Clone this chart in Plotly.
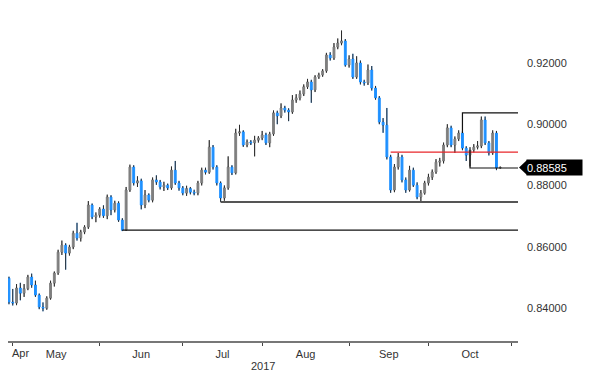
import pandas as pd
import plotly.graph_objects as go

# ---------------- data ----------------
start_date = "2017-04-28"
end_date = "2017-10-27"

opens = [0.8497, 0.8419, 0.8416, 0.8465, 0.8448, 0.8463, 0.8501, 0.8475, 0.8442, 0.8403,
         0.8399, 0.8432, 0.8481, 0.8514, 0.8582, 0.8605, 0.8579, 0.8599, 0.8644, 0.8628,
         0.8648, 0.8664, 0.8736, 0.8697, 0.8703, 0.8723, 0.8701, 0.8762, 0.8720, 0.8742,
         0.8687, 0.8654, 0.8785, 0.8860, 0.8808, 0.8815, 0.8736, 0.8769, 0.8752, 0.8818,
         0.8811, 0.8795, 0.8801, 0.8792, 0.8850, 0.8808, 0.8792, 0.8775, 0.8790, 0.8778,
         0.8775, 0.8808, 0.8850, 0.8843, 0.8925, 0.8860, 0.8808, 0.8759, 0.8792, 0.8860,
         0.8841, 0.8971, 0.8975, 0.8932, 0.8942, 0.8939, 0.8948, 0.8955, 0.8965, 0.8939,
         0.8968, 0.9037, 0.9027, 0.9053, 0.9046, 0.9040, 0.9079, 0.9086, 0.9099, 0.9122,
         0.9138, 0.9112, 0.9154, 0.9161, 0.9174, 0.9226, 0.9216, 0.9252, 0.9265, 0.9272,
         0.9193, 0.9213, 0.9154, 0.9200, 0.9138, 0.9135, 0.9177, 0.9118, 0.9086, 0.9007,
         0.8997, 0.8893, 0.8785, 0.8860, 0.8893, 0.8818, 0.8785, 0.8850, 0.8801, 0.8762,
         0.8775, 0.8808, 0.8827, 0.8844, 0.8876, 0.8880, 0.8932, 0.8988, 0.8932, 0.8952,
         0.8971, 0.8922, 0.8899, 0.8916, 0.8925, 0.8929, 0.9014, 0.8939, 0.8906, 0.8971,
         0.8857]

closes = [0.8419, 0.8416, 0.8465, 0.8448, 0.8463, 0.8501, 0.8475, 0.8442, 0.8403, 0.8399,
          0.8432, 0.8481, 0.8514, 0.8582, 0.8605, 0.8579, 0.8599, 0.8644, 0.8628, 0.8648,
          0.8664, 0.8736, 0.8697, 0.8703, 0.8723, 0.8701, 0.8762, 0.8720, 0.8742, 0.8687,
          0.8654, 0.8785, 0.8860, 0.8808, 0.8815, 0.8736, 0.8769, 0.8752, 0.8818, 0.8811,
          0.8795, 0.8801, 0.8792, 0.8850, 0.8808, 0.8792, 0.8775, 0.8790, 0.8778, 0.8775,
          0.8808, 0.8850, 0.8843, 0.8925, 0.8860, 0.8808, 0.8759, 0.8792, 0.8860, 0.8841,
          0.8971, 0.8975, 0.8932, 0.8942, 0.8939, 0.8948, 0.8955, 0.8965, 0.8939, 0.8968,
          0.9037, 0.9027, 0.9053, 0.9046, 0.9040, 0.9079, 0.9086, 0.9099, 0.9122, 0.9138,
          0.9112, 0.9154, 0.9161, 0.9174, 0.9226, 0.9216, 0.9252, 0.9265, 0.9272, 0.9193,
          0.9213, 0.9154, 0.9200, 0.9138, 0.9135, 0.9177, 0.9118, 0.9086, 0.9007, 0.8997,
          0.8893, 0.8785, 0.8860, 0.8893, 0.8818, 0.8785, 0.8850, 0.8801, 0.8762, 0.8775,
          0.8808, 0.8827, 0.8844, 0.8876, 0.8880, 0.8932, 0.8988, 0.8932, 0.8952, 0.8971,
          0.8922, 0.8899, 0.8916, 0.8925, 0.8929, 0.9014, 0.8939, 0.8906, 0.8971, 0.8857,
          0.88585]

highs = [0.8502, 0.8462, 0.8478, 0.8482, 0.8478, 0.8508, 0.8512, 0.8489, 0.8447, 0.8418,
         0.8438, 0.8489, 0.8519, 0.8590, 0.8620, 0.8611, 0.8606, 0.8652, 0.8678, 0.8655,
         0.8670, 0.8749, 0.8741, 0.8712, 0.8729, 0.8735, 0.8770, 0.8768, 0.8750, 0.8748,
         0.8693, 0.8795, 0.8868, 0.8866, 0.8830, 0.8822, 0.8785, 0.8774, 0.8826, 0.8833,
         0.8818, 0.8812, 0.8806, 0.8862, 0.8880, 0.8815, 0.8798, 0.8799, 0.8795, 0.8786,
         0.8815, 0.8858, 0.8858, 0.8948, 0.8932, 0.8866, 0.8813, 0.8800, 0.8895, 0.8866,
         0.8985, 0.8998, 0.8980, 0.8950, 0.8948, 0.8962, 0.8961, 0.8978, 0.8972, 0.8975,
         0.9045, 0.9044, 0.9068, 0.9060, 0.9052, 0.9095, 0.9098, 0.9110, 0.9130, 0.9148,
         0.9145, 0.9160, 0.9168, 0.9180, 0.9233, 0.9235, 0.9265, 0.9280, 0.9306, 0.9278,
         0.9225, 0.9230, 0.9222, 0.9208, 0.9145, 0.9195, 0.9190, 0.9125, 0.9092, 0.9020,
         0.9053, 0.8900, 0.8870, 0.8906, 0.8900, 0.8826, 0.8864, 0.8858, 0.8810, 0.8785,
         0.8815, 0.8838, 0.8852, 0.8886, 0.8890, 0.8940, 0.9000, 0.8995, 0.8960, 0.8980,
         0.8978, 0.8928, 0.8925, 0.8935, 0.8945, 0.9025, 0.9025, 0.8945, 0.8980, 0.8978,
         0.8862]

lows = [0.8412, 0.8408, 0.8409, 0.8425, 0.8436, 0.8458, 0.8466, 0.8436, 0.8396, 0.8389,
        0.8394, 0.8427, 0.8470, 0.8508, 0.8573, 0.8525, 0.8571, 0.8592, 0.8620, 0.8617,
        0.8641, 0.8658, 0.8690, 0.8680, 0.8695, 0.8694, 0.8690, 0.8703, 0.8712, 0.8681,
        0.8651, 0.8652, 0.8779, 0.8800, 0.8795, 0.8722, 0.8726, 0.8745, 0.8745, 0.8802,
        0.8787, 0.8782, 0.8785, 0.8786, 0.8802, 0.8783, 0.8768, 0.8766, 0.8771, 0.8768,
        0.8768, 0.8800, 0.8836, 0.8838, 0.8852, 0.8800, 0.8746, 0.8750, 0.8786, 0.8834,
        0.8836, 0.8962, 0.8926, 0.8925, 0.8932, 0.8895, 0.8940, 0.8948, 0.8932, 0.8925,
        0.8962, 0.9000, 0.9020, 0.9038, 0.9010, 0.9034, 0.9070, 0.9078, 0.9092, 0.9115,
        0.9070, 0.9105, 0.9148, 0.9155, 0.9168, 0.9208, 0.9210, 0.9245, 0.9258, 0.9188,
        0.9185, 0.9148, 0.9148, 0.9130, 0.9126, 0.9128, 0.9110, 0.9080, 0.9000, 0.8972,
        0.8885, 0.8776, 0.8778, 0.8852, 0.8810, 0.8776, 0.8780, 0.8795, 0.8755, 0.8749,
        0.8770, 0.8800, 0.8818, 0.8838, 0.8862, 0.8872, 0.8925, 0.8925, 0.8906, 0.8945,
        0.8915, 0.8880, 0.8862, 0.8908, 0.8918, 0.8922, 0.8932, 0.8898, 0.8900, 0.8850,
        0.8855]

last_price = 0.88585
y_ticks = [0.84, 0.86, 0.88, 0.90, 0.92]

# horizontal levels: (start candle index, price)
support_low = (30, 0.8654)
support_mid = (56, 0.8746)
red_level = (101, 0.8909)
box_top = (120, 0.8971, 0.9037)      # start idx, vertical from, level
box_bottom = (122, 0.8916, 0.8857)   # start idx, vertical from, level

# ---------------- build ----------------
dates = pd.bdate_range(start_date, end_date)
idx = list(range(len(dates)))

ext_dates = pd.bdate_range(start_date, "2017-11-30")
month_starts = [i for i in range(1, len(ext_dates)) if ext_dates[i].month != ext_dates[i - 1].month]
month_names = [ext_dates[i].strftime("%b") for i in month_starts]
mid_vals = [(month_starts[k] + month_starts[k + 1]) / 2 for k in range(len(month_starts) - 1)]
mid_text = month_names[:-1]

x_min, x_max = -0.26, 134.7
y_min, y_max = 0.8292, 0.9373

WICK = "#2a2a2a"
GRAY = "#7f7f7f"
BLUE = "#1E90FF"

fig = go.Figure()
fig.add_trace(go.Candlestick(
    x=idx, open=opens, high=highs, low=lows, close=closes,
    increasing=dict(line=dict(color=GRAY, width=1), fillcolor=GRAY),
    decreasing=dict(line=dict(color=BLUE, width=1), fillcolor=BLUE),
    whiskerwidth=0, showlegend=False,
    text=[d.strftime("%Y-%m-%d") for d in dates], hoverinfo="text+y",
))

# dark wicks outside the bodies
wx, wy = [], []
for i, o, h, l, c in zip(idx, opens, highs, lows, closes):
    top, bot = max(o, c), min(o, c)
    if h > top:
        wx += [i, i, None]
        wy += [top, h, None]
    if l < bot:
        wx += [i, i, None]
        wy += [bot, l, None]
fig.add_trace(go.Scatter(x=wx, y=wy, mode="lines", line=dict(color=WICK, width=1),
                         hoverinfo="skip", showlegend=False))

shapes = []
shapes.append(dict(type="line", xref="x", yref="y", x0=support_low[0], x1=x_max,
                   y0=support_low[1], y1=support_low[1], line=dict(color="#111111", width=1.2)))
shapes.append(dict(type="line", xref="x", yref="y", x0=support_mid[0], x1=x_max,
                   y0=support_mid[1], y1=support_mid[1], line=dict(color="#555555", width=1.8)))
shapes.append(dict(type="line", xref="x", yref="y", x0=red_level[0], x1=x_max,
                   y0=red_level[1], y1=red_level[1], line=dict(color="#e8262a", width=1.2)))
for s, v0, lv in (box_top, box_bottom):
    shapes.append(dict(type="path", xref="x", yref="y",
                       path=f"M{s},{v0} L{s},{lv} L{x_max},{lv}",
                       line=dict(color="#111111", width=1.2)))
# arrow of the last-price tag
shapes.append(dict(type="path", xref="paper", yref="y", xsizemode="pixel", ysizemode="pixel",
                   xanchor=1, yanchor=last_price, path="M1,0 L9,7.5 L9,-7.5 Z",
                   fillcolor="black", line=dict(color="black", width=0)))

annotations = [
    dict(text="Apr", xref="x", yref="paper", x=x_min, y=0, xanchor="left", yanchor="top",
         xshift=2, yshift=-4, showarrow=False, font=dict(size=11, color="#333333")),
    dict(text="2017", xref="paper", yref="paper", x=0.5, y=0, xanchor="center", yanchor="top",
         yshift=-17, showarrow=False, font=dict(size=11, color="#333333")),
    dict(text=f"{last_price:.5f}", xref="paper", yref="y", x=1, y=last_price, xanchor="left",
         yanchor="middle", xshift=8, showarrow=False, bgcolor="black", width=55, height=15,
         align="left", borderpad=0, font=dict(size=11, color="white")),
]

# the page body adds an 8px offset, so the figure is 8px smaller and margins shifted
fig.update_layout(
    width=592, height=382,
    margin=dict(l=0, r=82, t=2, b=49),
    paper_bgcolor="white", plot_bgcolor="white",
    font=dict(family="Liberation Sans, Arial, sans-serif", size=11, color="#333333"),
    shapes=shapes, annotations=annotations,
    showlegend=False,
    xaxis=dict(range=[x_min, x_max], rangeslider=dict(visible=False),
               tickmode="array", tickvals=mid_vals, ticktext=mid_text, ticks="",
               showgrid=False, zeroline=False, showline=True, linecolor="#777777", linewidth=2,
               ticklabelstandoff=2,
               minor=dict(tickmode="array", tickvals=month_starts, ticks="outside",
                          ticklen=3, tickcolor="#444444", tickwidth=1, showgrid=False)),
    yaxis=dict(range=[y_min, y_max], side="right", tickmode="array", tickvals=y_ticks,
               tickformat=".5f", ticks="", showgrid=False, zeroline=False, showline=False,
               ticklabelstandoff=8),
)

fig.write_html("out.html")
